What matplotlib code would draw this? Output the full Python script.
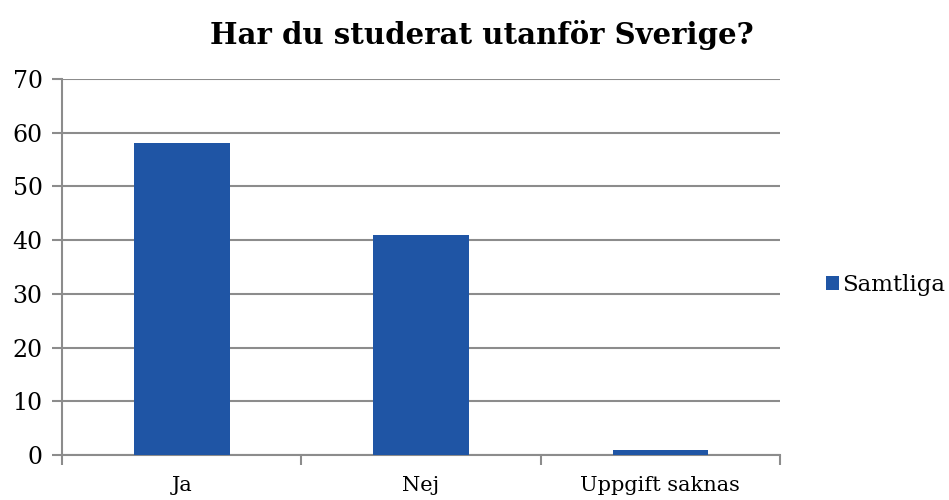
import matplotlib
matplotlib.use("Agg")
import matplotlib.pyplot as plt
import numpy as np

categories = ["Ja", "Nej", "Uppgift saknas"]
samtliga = [58, 41, 1]
yticks = [0, 10, 20, 30, 40, 50, 60, 70]

plt.rcParams['font.family'] = ['DejaVu Serif']

fig = plt.figure(figsize=(9.49, 5.0), dpi=100)
ax = fig.add_axes([0.0653, 0.09, 0.7567, 0.752])

x = np.arange(len(categories))
ax.bar(x, samtliga, width=0.4, color="#1F55A5", label="Samtliga", zorder=3)

ax.set_xlim(-0.5, len(categories) - 0.5)
ax.set_ylim(0, 70)
ax.set_yticks(yticks)
ax.yaxis.grid(True, color="#8c8c8c", linewidth=1.5, zorder=0)
ax.set_axisbelow(True)

ax.set_xticks(x)
ax.set_xticklabels(categories, fontsize=15)
ax.set_xticks(np.arange(-0.5, len(categories)), minor=True)
ax.tick_params(axis="x", which="major", length=0, pad=15)
ax.tick_params(axis="x", which="minor", length=7, width=1.5, color="#8c8c8c")
ax.tick_params(axis="y", length=7, width=1.5, color="#8c8c8c", labelsize=17, pad=7)

for side in ["top", "right"]:
    ax.spines[side].set_visible(False)
for side in ["left", "bottom"]:
    ax.spines[side].set_color("#8c8c8c")
    ax.spines[side].set_linewidth(1.5)

ax.set_title("Har du studerat utanför Sverige?", fontsize=21, fontweight="bold", pad=25, x=0.585)

ax.legend(loc="center left", bbox_to_anchor=(1.0, 0.452), frameon=False, fontsize=16.5,
          handlelength=0.55, handleheight=0.55, handletextpad=0.15, borderaxespad=1.6)

fig.savefig("out.png", dpi=100)
